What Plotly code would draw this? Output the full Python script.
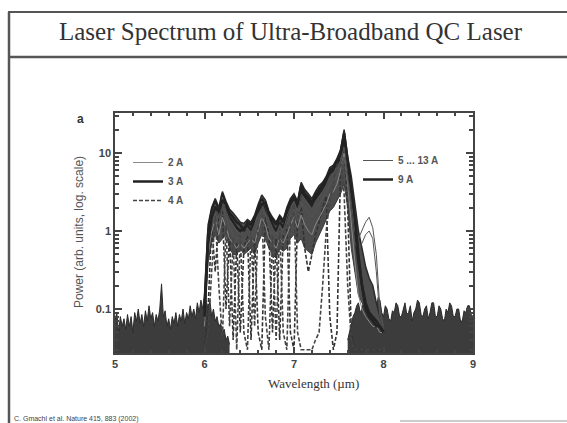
import plotly.graph_objects as go

# ---------------- data ----------------
# noise floor, left of the emission band (5.00 .. 6.28 um, step 0.02)
noise_left = [0.07, 0.09, 0.05, 0.08, 0.06, 0.075, 0.055, 0.085, 0.06, 0.08,
              0.05, 0.09, 0.07, 0.10, 0.065, 0.085, 0.06, 0.095, 0.07, 0.11,
              0.075, 0.09, 0.06, 0.085, 0.07, 0.10, 0.21, 0.08, 0.095, 0.06,
              0.075, 0.055, 0.08, 0.065, 0.09, 0.06, 0.085, 0.07, 0.10, 0.065,
              0.09, 0.075, 0.11, 0.08, 0.10, 0.075, 0.12, 0.09, 0.13, 0.10,
              0.16, 0.12, 0.10, 0.13, 0.08, 0.10, 0.07, 0.08, 0.06, 0.065,
              0.05, 0.055, 0.04, 0.045, 0.035]
# noise floor, right of the emission band (7.60 .. 9.00 um, step 0.02)
noise_right = [0.04, 0.05, 0.06, 0.08, 0.09, 0.11, 0.12, 0.09, 0.10, 0.13,
               0.14, 0.10, 0.09, 0.12, 0.12, 0.09, 0.10, 0.14, 0.13, 0.09,
               0.08, 0.11, 0.10, 0.075, 0.07, 0.095, 0.09, 0.12, 0.11, 0.08,
               0.08, 0.10, 0.12, 0.085, 0.09, 0.11, 0.07, 0.09, 0.10, 0.13,
               0.12, 0.085, 0.08, 0.10, 0.11, 0.075, 0.09, 0.12, 0.12, 0.08,
               0.08, 0.11, 0.10, 0.075, 0.07, 0.10, 0.09, 0.12, 0.11, 0.08,
               0.08, 0.10, 0.10, 0.07, 0.07, 0.095, 0.09, 0.11, 0.11, 0.085,
               0.08]

# emission band (6.00 .. 8.00 um, step 0.04)
band_upper = [0.15, 1.2, 2.0, 2.6, 2.0, 3.2, 2.4, 1.9, 1.7, 1.5,
              1.3, 1.25, 1.4, 1.3, 1.6, 2.2, 2.9, 2.5, 1.8, 1.5,
              1.3, 1.6, 1.4, 2.0, 2.6, 3.0, 2.4, 4.2, 3.4, 3.0,
              2.6, 3.2, 3.8, 4.2, 5.0, 6.5, 7.0, 8.5, 11, 20,
              9.0, 5.0, 2.2, 1.0, 0.6, 0.35, 0.25, 0.2, 0.12, 0.08,
              0.06]
band_lower = [0.08, 0.4, 0.7, 0.9, 0.7, 0.8, 0.9, 0.6, 0.5, 0.5,
              0.6, 0.5, 0.55, 0.6, 0.5, 0.7, 0.9, 0.8, 0.6, 0.5,
              0.45, 0.6, 0.55, 0.6, 0.8, 0.9, 0.7, 0.8, 0.6, 0.55,
              0.5, 0.7, 0.9, 1.1, 1.4, 1.8, 2.0, 2.4, 3.0, 4.0,
              2.0, 0.6, 0.3, 0.15, 0.12, 0.1, 0.09, 0.08, 0.07, 0.06,
              0.05]
i_2A = [0.06, 0.5, 1.0, 1.4, 0.9, 1.5, 1.1, 0.8, 0.7, 0.6,
        0.7, 0.6, 0.7, 0.8, 0.7, 1.0, 1.5, 1.2, 0.8, 0.7,
        0.6, 0.8, 0.7, 0.9, 1.2, 1.5, 1.1, 1.6, 1.2, 1.0,
        0.9, 1.2, 1.5, 1.8, 2.2, 3.0, 3.2, 4.0, 6.0, 10,
        4.0, 1.2, 0.4, 0.15, 0.10, 0.08, 0.07, 0.06, 0.06, 0.05,
        0.05]
i_3A = [0.10, 0.9, 1.8, 2.4, 1.6, 3.0, 2.0, 1.5, 1.3, 1.1,
        1.0, 1.1, 1.2, 1.0, 1.4, 2.0, 2.6, 2.0, 1.5, 1.2,
        1.0, 1.3, 1.1, 1.6, 2.2, 2.6, 2.0, 3.2, 2.8, 2.4,
        2.1, 2.6, 3.0, 3.5, 4.2, 5.5, 6.0, 7.0, 9.0, 16,
        7.0, 3.0, 1.0, 0.4, 0.2, 0.12, 0.09, 0.08, 0.07, 0.06,
        0.05]
i_4A = [0.03, 0.05, 0.3, 1.6, 0.2, 0.04, 1.2, 0.06, 0.8, 0.03,
        0.9, 0.05, 0.03, 1.0, 0.06, 1.3, 2.0, 0.08, 0.03, 0.9,
        0.04, 1.1, 0.05, 0.03, 1.4, 2.2, 0.05, 0.03, 0.03, 0.03,
        0.03, 0.04, 0.05, 0.2, 1.0, 2.5, 4.0, 8.0, 10, 3.0,
        0.2, 0.04, 0.03, 0.03, 0.03, 0.03, 0.03, 0.03, 0.03, 0.03,
        0.03]
i_4A_b = [0.03, 0.10, 1.2, 0.3, 1.5, 2.0, 0.10, 0.9, 0.04, 0.7,
          0.05, 0.6, 0.9, 0.04, 0.8, 0.05, 0.03, 1.5, 0.9, 0.05,
          0.8, 0.04, 0.9, 1.2, 0.05, 0.03, 1.5, 2.0, 0.6, 0.3,
          0.5, 0.9, 1.3, 2.0, 2.8, 0.08, 0.03, 0.05, 6.0, 12,
          2.0, 0.05, 0.03, 0.03, 0.03, 0.03, 0.03, 0.03, 0.03, 0.03,
          0.03]
i_5to13_a = [0.09, 0.8, 1.6, 2.2, 1.5, 2.7, 1.8, 1.4, 1.2, 1.0,
             0.9, 1.0, 1.1, 0.95, 1.2, 1.7, 2.4, 2.1, 1.4, 1.1,
             0.9, 1.2, 1.0, 1.5, 2.0, 2.4, 1.8, 3.0, 2.6, 2.2,
             1.9, 2.4, 2.8, 3.2, 3.9, 5.0, 5.5, 6.5, 8.0, 12,
             6.0, 2.5, 1.0, 0.8, 1.0, 1.3, 1.5, 1.1, 0.5, 0.10,
             0.06]
i_5to13_b = [0.07, 0.6, 1.2, 1.7, 1.2, 2.0, 1.5, 1.1, 0.9, 0.8,
             0.8, 0.75, 0.9, 0.85, 1.0, 1.3, 1.9, 1.6, 1.1, 0.9,
             0.8, 1.0, 0.9, 1.2, 1.6, 1.9, 1.4, 2.3, 2.0, 1.7,
             1.5, 1.9, 2.2, 2.6, 3.1, 4.0, 4.4, 5.2, 6.5, 9.0,
             4.5, 1.8, 0.7, 0.6, 0.7, 0.9, 1.0, 0.8, 0.3, 0.08,
             0.06]
i_9A = [0.08, 0.7, 1.5, 2.0, 1.8, 2.5, 2.2, 1.7, 1.5, 1.3,
        1.2, 1.0, 1.3, 1.2, 1.5, 1.8, 2.2, 2.3, 1.6, 1.4,
        1.2, 1.5, 1.3, 1.8, 2.4, 2.8, 2.2, 3.8, 3.0, 2.7,
        2.3, 2.9, 3.4, 3.9, 4.6, 6.0, 6.5, 8.0, 10, 18,
        8.0, 4.0, 1.5, 0.5, 0.2, 0.1, 0.08, 0.07, 0.06, 0.06,
        0.05]

y_tickvals = [0.1, 1, 10]
y_ticktext = ["0.1", "1", "10"]
x_tickvals = [5, 6, 7, 8, 9]

# sampling grids (wavelength, um)
wl_left = [round(5.00 + 0.02 * i, 2) for i in range(len(noise_left))]
wl_right = [round(7.60 + 0.02 * i, 2) for i in range(len(noise_right))]
wl_main = [round(6.00 + 0.04 * i, 2) for i in range(len(band_upper))]

FLOOR = 1e-3  # fill baseline, below the visible axis range

# ---------------- figure ----------------
fig = go.Figure()
dark = "#2b2b2b"

for xs, ys in ((wl_left, noise_left), (wl_right, noise_right)):
    fig.add_trace(go.Scatter(x=xs, y=[FLOOR] * len(xs), mode="lines",
                             line=dict(width=0), showlegend=False, hoverinfo="skip"))
    fig.add_trace(go.Scatter(x=xs, y=ys, mode="lines", fill="tonexty",
                             fillcolor="#3c3c3c", line=dict(color=dark, width=1),
                             showlegend=False))

fig.add_trace(go.Scatter(x=wl_main, y=band_lower, mode="lines",
                         line=dict(color="#3a3a3a", width=1), showlegend=False))
fig.add_trace(go.Scatter(x=wl_main, y=band_upper, mode="lines", fill="tonexty",
                         fillcolor="#4d4d4d", line=dict(color=dark, width=1.5),
                         showlegend=False))

dash_style = "4px,2px"
fig.add_trace(go.Scatter(x=wl_main, y=i_4A_b, mode="lines", showlegend=False,
                         line=dict(color="#333333", width=1.6, dash=dash_style)))
fig.add_trace(go.Scatter(x=wl_main, y=i_2A, mode="lines", name="2 A",
                         line=dict(color="#8a8a8a", width=1), legend="legend"))
fig.add_trace(go.Scatter(x=wl_main, y=i_3A, mode="lines", name="3 A",
                         line=dict(color="#222222", width=2.5), legend="legend"))
fig.add_trace(go.Scatter(x=wl_main, y=i_4A, mode="lines", name="4 A",
                         line=dict(color="#444444", width=1.6, dash=dash_style),
                         legend="legend"))
fig.add_trace(go.Scatter(x=wl_main, y=i_5to13_a, mode="lines", name="5 ... 13 A",
                         line=dict(color="#555555", width=1), legend="legend2"))
fig.add_trace(go.Scatter(x=wl_main, y=i_5to13_b, mode="lines", showlegend=False,
                         line=dict(color="#555555", width=1), legend="legend2"))
fig.add_trace(go.Scatter(x=wl_main, y=i_9A, mode="lines", name="9 A",
                         line=dict(color="#222222", width=2.5), legend="legend2"))

axis_col = "#444444"
tickfont = dict(family="Liberation Sans, Arial", size=11, color="#444444", weight="bold")

fig.update_xaxes(range=[5, 9], tickvals=x_tickvals, ticks="inside", ticklen=6,
                 tickwidth=1.5, tickcolor=axis_col, showline=True, linecolor=axis_col,
                 linewidth=1.5, mirror="allticks", showgrid=False, zeroline=False,
                 tickfont=tickfont,
                 minor=dict(dtick=0.2, ticks="inside", ticklen=3, tickcolor=axis_col,
                            showgrid=False))
fig.update_yaxes(type="log", range=[-1.564, 1.513], tickvals=y_tickvals,
                 ticktext=y_ticktext, ticks="inside", ticklen=7, tickwidth=1.5,
                 tickcolor=axis_col, showline=True, linecolor=axis_col, linewidth=1.5,
                 mirror="allticks", showgrid=False, zeroline=False, tickfont=tickfont,
                 minor=dict(dtick="D1", ticks="inside", ticklen=4, tickcolor=axis_col,
                            showgrid=False))

serif = "Liberation Serif, Times New Roman, serif"
sans = "Liberation Sans, Arial, sans-serif"

W, H = 567, 423
L, R, T, B = 115, 94, 113, 70
pw, ph = W - L - R, H - T - B


def px(x):
    return (x - L) / pw


def py(y):
    return (H - B - y) / ph


line_col = "#555555"
shapes = [
    dict(type="line", xref="paper", yref="paper", x0=px(8), x1=px(575),
         y0=py(12), y1=py(12), line=dict(color=line_col, width=2)),
    dict(type="line", xref="paper", yref="paper", x0=px(8), x1=px(575),
         y0=py(57), y1=py(57), line=dict(color=line_col, width=2.5)),
    dict(type="line", xref="paper", yref="paper", x0=px(9), x1=px(9),
         y0=py(12), y1=py(430), line=dict(color=line_col, width=2.5)),
    dict(type="line", xref="paper", yref="paper", x0=px(400), x1=px(575),
         y0=py(421), y1=py(421), line=dict(color="#999999", width=1)),
]

annotations = [
    dict(text="Laser Spectrum of Ultra-Broadband QC Laser", xref="paper", yref="paper",
         x=px(291), y=py(31), showarrow=False, xanchor="center", yanchor="middle",
         font=dict(family=serif, size=25, color="#333333")),
    dict(text="Wavelength (µm)", xref="paper", yref="paper", x=px(313), y=py(383),
         showarrow=False, xanchor="center", yanchor="middle",
         font=dict(family=serif, size=13, color="#333333")),
    dict(text="Power (arb. units, log. scale)", xref="paper", yref="paper",
         x=px(79), y=py(232), textangle=-90, showarrow=False, xanchor="center",
         yanchor="middle", font=dict(family=sans, size=12, color="#555555")),
    dict(text="<b>a</b>", xref="paper", yref="paper", x=px(80), y=py(119),
         showarrow=False, xanchor="center", yanchor="middle",
         font=dict(family=sans, size=12, color="#333333")),
    dict(text="C. Gmachl et al. Nature 415, 883 (2002)", xref="paper", yref="paper",
         x=px(12), y=py(419), showarrow=False, xanchor="left", yanchor="middle",
         font=dict(family=sans, size=7, color="#444444")),
]

legend_font = dict(family=sans, size=10, color="#555555", weight="bold")
fig.update_layout(
    width=W, height=H,
    margin=dict(l=L, r=R, t=T, b=B, pad=0),
    paper_bgcolor="white", plot_bgcolor="white",
    shapes=shapes, annotations=annotations,
    legend=dict(x=px(128), y=py(148), xanchor="left", yanchor="top",
                traceorder="normal", bgcolor="rgba(0,0,0,0)", font=legend_font,
                tracegroupgap=0),
    legend2=dict(x=px(358), y=py(146), xanchor="left", yanchor="top",
                 traceorder="normal", bgcolor="rgba(0,0,0,0)", font=legend_font,
                 tracegroupgap=0),
)

fig.write_html("out.html")
